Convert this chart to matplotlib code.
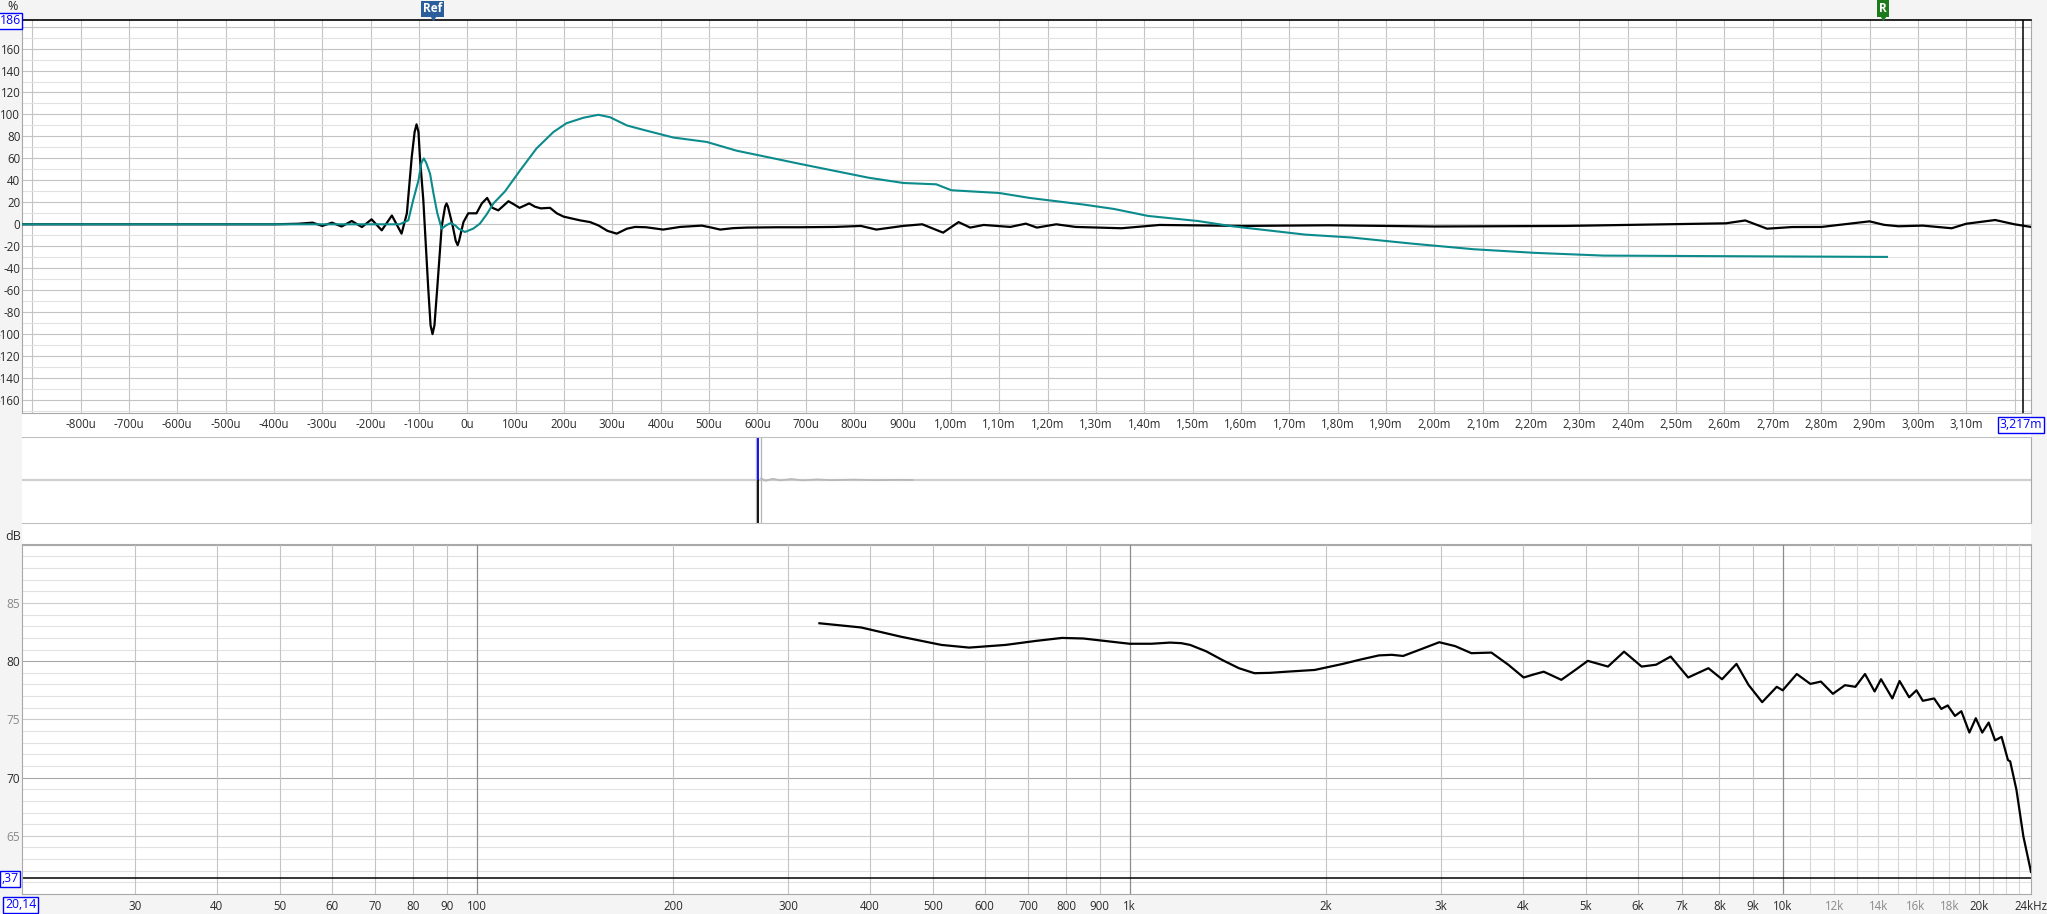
import numpy as np
import matplotlib.pyplot as plt
from matplotlib.transforms import blended_transform_factory
from matplotlib.patches import Rectangle

plt.rcParams['font.family'] = ['Open Sans', 'DejaVu Sans']

W, H = 2047, 914
DPI = 100

# ---- impulse response (black), time in us, value in % ----
imp_t = [-921, -400, -350, -320, -300, -280, -260, -239, -218, -198, -177, -156, -136,
         -125, -115, -109, -105, -101, -98, -91, -81, -76, -72, -68, -62, -53, -46, -43,
         -40, -30, -24, -20, -17, -8, 2, 19, 30, 41, 52, 64, 75, 85, 97, 108, 118, 128,
         140, 152, 171, 185, 199, 233, 254, 271, 290, 309, 330, 347, 370, 405, 440, 485,
         505, 523, 550, 578, 640, 688, 760, 814, 846, 901, 941, 984, 1016, 1040, 1068,
         1123, 1155, 1178, 1218, 1258, 1353, 1432, 1606, 1780, 2000, 2270, 2603, 2643,
         2688, 2740, 2801, 2900, 2930, 2960, 3010, 3070, 3100, 3160, 3200, 3234]
imp_v = [0, 0, 0.5, 1.5, -1.5, 1.5, -2, 3, -2.5, 4.5, -5.5, 8, -8.5,
         10, 61, 84, 91, 84, 61, 22, -57, -92, -100, -92, -57, -2, 16, 19,
         16, -2, -15, -19, -15, 2, 10, 10, 19, 24, 15, 12.7, 17, 21, 18, 15, 17, 19,
         16, 14.5, 15, 10, 7, 3.6, 2, -1, -6, -8.5, -4, -2.4, -2.7, -4.8, -2.4, -1.2,
         -3, -4.8, -3.5, -3, -2.7, -2.7, -2.4, -1.5, -4.8, -1.5, 0, -7.6, 2, -3, -0.6,
         -2.4, 0.6, -3, 0, -2.4, -3.6, -0.6, -1.5, -0.9, -2, -1.5, 0.9, 3.5,
         -4, -2.5, -2.4, 2.7, -0.5, -1.8, -1.2, -3.6, 0.5, 3.9, 0, -2.4]

# ---- step response (teal) ----
step_t = [-921, -140, -122, -112, -101, -95, -90, -85, -77, -70, -62, -53, -44, -34,
          -25, -18, -5, 12, 26, 40, 54, 78, 109, 143, 178, 205, 240, 271, 295, 330,
          364, 426, 495, 557, 612, 688, 830, 902, 970, 1001, 1100, 1163, 1274, 1337,
          1408, 1511, 1582, 1733, 1828, 1954, 2081, 2208, 2350, 2588, 2936]
step_v = [0, 0, 3.6, 22, 40, 56, 60, 56, 46, 28, 10, -4, -1, 1.2,
          -1, -4, -7, -4, 0.6, 9, 19, 30, 49, 69, 84, 92, 97, 99.7, 97.5, 90,
          86, 79, 75, 67, 62, 55, 42.4, 37.6, 36.4, 31, 28.5, 24, 18, 14,
          7.6, 3, -1.8, -9.4, -12, -17.6, -22.7, -26, -28.5, -29, -29.7]

# ---- overview strip (normalised) ----
ov_spike_t = 0.0
ov_spike_pos = 1.0
ov_spike_neg = -1.0
ov_window = [-0.0033, 0.0043]
ov_t = [0.004, 0.01, 0.02, 0.03, 0.045, 0.06, 0.08, 0.1, 0.13, 0.16, 0.19, 0.21]
ov_v = [0.04, -0.02, 0.03, -0.01, 0.025, -0.01, 0.015, -0.005, 0.01, -0.005, 0.005, 0]

# ---- frequency response ----
freq = [335, 388, 447, 515, 568, 646, 720, 788, 850, 907, 1000, 1080, 1154, 1200, 1238,
        1310, 1387, 1470, 1553, 1640, 1740, 1921, 2121, 2260, 2409, 2520, 2623, 2800,
        2979, 3150, 3337, 3581, 3800, 4012, 4150, 4306, 4582, 4800, 5030, 5401, 5716,
        6082, 6400, 6737, 7166, 7696, 8075, 8497, 8864, 9302, 9792, 10000, 10509,
        11025, 11441, 11937, 12455, 12921, 13367, 13828, 14144, 14720, 15099, 15619,
        16025, 16390, 17056, 17493, 17893, 18356, 18775, 19314, 19754, 20210, 20672,
        21143, 21635, 22130, 22300, 22800, 23363, 24000]
spl = [83.26, 82.9, 82.1, 81.4, 81.17, 81.4, 81.75, 82.0, 81.95, 81.77, 81.5, 81.5, 81.6,
       81.55, 81.4, 80.85, 80.1, 79.4, 78.97, 79.0, 79.1, 79.25, 79.77, 80.15, 80.5, 80.55,
       80.45, 81.05, 81.63, 81.3, 80.69, 80.74, 79.7, 78.6, 78.85, 79.1, 78.4, 79.2, 80.03,
       79.54, 80.82, 79.54, 79.7, 80.4, 78.6, 79.4, 78.45, 79.77, 77.97, 76.48, 77.8,
       77.5, 78.9, 78.05, 78.25, 77.2, 77.94, 77.8, 78.9, 77.4, 78.45, 76.8, 78.3, 76.9,
       77.5, 76.6, 76.8, 75.9, 76.2, 75.3, 75.7, 73.87, 75.1, 73.87, 74.73, 73.2, 73.5,
       71.5, 71.4, 68.95, 64.95, 61.9]

ref_t = -72
marker_r_t = 2928
cursor_t = 3217
cursor_db = 61.37
f_start = 20.14
f_end = 24000

GRID = '#c4c4c4'
GRID_MINOR = '#e2e2e2'
TEAL = '#0b8b8b'
TXT = '#2a2a2a'
FS = 8.3

fig = plt.figure(figsize=(W / DPI, H / DPI), dpi=DPI, facecolor='#f4f4f4')


def px_axes(l, t, r, b):
    return fig.add_axes([l / W, 1 - b / H, (r - l) / W, (b - t) / H])


def ftext(x, y, s, **kw):
    return fig.text(x / W, 1 - y / H, s, **kw)


def white_band(l, t, r, b):
    fig.patches.append(Rectangle((l / W, 1 - b / H), (r - l) / W, (b - t) / H,
                                 transform=fig.transFigure, fc='white', ec='none', zorder=-1))


white_band(22, 413, 2031, 437)
white_band(22, 523, 2031, 544)

blue_box = dict(boxstyle='square,pad=0.12', fc='white', ec='blue', lw=1)

# ---- top panel: impulse / step ----
ax1 = px_axes(22, 20, 2031, 413)
ax1.set_xlim(-921, 3234)
ax1.set_ylim(-171.8, 186)
for t in range(-900, 3300, 100):
    ax1.axvline(t, color=GRID, lw=0.8, zorder=0)
for v in range(-170, 190, 10):
    ax1.axhline(v, color=GRID if v % 20 == 0 else GRID_MINOR, lw=0.8, zorder=0)

ax1.plot(imp_t, imp_v, color='black', lw=1.6, solid_joinstyle='round', zorder=3)
ax1.plot(step_t, step_v, color=TEAL, lw=1.5, solid_joinstyle='round', zorder=4)
ax1.axvline(cursor_t, color='black', lw=1.1, zorder=5)

# the last tick (3,20m) sits under the cursor readout box, so it is left out
xt = list(range(-800, 3200, 100))
xl = [f"{t}u" if abs(t) < 1000 else f"{t / 1000:.2f}m".replace('.', ',') for t in xt]
ax1.set_xticks(xt)
ax1.set_xticklabels(xl, fontsize=FS, color=TXT)
# 180 is hidden by the "186" readout box
yt = list(range(-160, 180, 20))
ax1.set_yticks(yt)
ax1.set_yticklabels([str(v) for v in yt], fontsize=FS, color=TXT)
ax1.tick_params(length=0, pad=3.5, axis='x')
ax1.tick_params(length=0, pad=1.2, axis='y')
for s in ['left', 'right', 'bottom']:
    ax1.spines[s].set_color('#a8a8a8')
ax1.spines['top'].set_color('black')
ax1.spines['top'].set_linewidth(1.2)

trans1 = blended_transform_factory(ax1.transData, fig.transFigure)
ax1.text(ref_t, 1 - 9 / H, 'Ref', transform=trans1, ha='center', va='center', color='white',
         fontsize=8.5, fontweight='bold',
         bbox=dict(boxstyle='square,pad=0.15', fc='#2b5f9c', ec='none'), zorder=6)
ax1.plot([ref_t], [1 - 16.5 / H], marker='v', ms=5, color='#2b5f9c', transform=trans1,
         clip_on=False, zorder=6)
ax1.text(marker_r_t, 1 - 8.5 / H, 'R', transform=trans1, ha='center', va='center', color='white',
         fontsize=8.5, fontweight='bold',
         bbox=dict(boxstyle='square,pad=0.2', fc='#1d7a1d', ec='none'), zorder=6)
ax1.plot([marker_r_t], [1 - 16.5 / H], marker='v', ms=5, color='#1d7a1d', transform=trans1,
         clip_on=False, zorder=6)

ftext(13, 7, '%', ha='center', va='center', fontsize=9, color=TXT)
ftext(10, 21, '186', ha='center', va='center', fontsize=FS + 0.5, color='blue', bbox=blue_box)
ftext(2021, 425, '3,217m', ha='center', va='center', fontsize=FS + 0.5, color='blue', bbox=blue_box)

# ---- middle overview strip ----
ax2 = px_axes(22, 437, 2031, 523)
ax2.set_xlim(-1, 1.729)
ax2.set_ylim(-1, 1)
ax2.axhline(0, color='#cfcfcf', lw=1.6, zorder=0)
for w in ov_window:
    ax2.axvline(w, color='#b4b4b4', lw=0.9)
ax2.plot(ov_t, ov_v, color='#b8b8b8', lw=1.2)
ax2.vlines(ov_spike_t, 0, ov_spike_pos, color='blue', lw=1.3)
ax2.vlines(ov_spike_t, ov_spike_neg, 0, color='black', lw=1.3)
ax2.set_xticks([])
ax2.set_yticks([])
for s in ax2.spines.values():
    s.set_color('#c0c0c0')
ax2.spines['left'].set_visible(False)
ax2.spines['right'].set_color('#a8a8a8')

ftext(13, 536, 'dB', ha='center', va='center', fontsize=9, color=TXT)

# ---- bottom panel: frequency response ----
ax3 = px_axes(22, 544, 2031, 894)
ax3.set_xscale('log')
ax3.set_xlim(f_start, f_end)
ax3.set_ylim(60, 90.07)
for d in range(61, 91):
    c = '#a8a8a8' if d % 10 == 0 else ('#cccccc' if d % 5 == 0 else GRID_MINOR)
    ax3.axhline(d, color=c, lw=0.8, zorder=0)
mid = list(range(30, 100, 10)) + list(range(200, 1000, 100)) + list(range(2000, 10000, 1000))
for f in mid:
    ax3.axvline(f, color=GRID, lw=0.8, zorder=0)
for f in [100, 1000, 10000]:
    ax3.axvline(f, color='#8c8c8c', lw=0.9, zorder=0)
for f in range(11000, 24000, 1000):
    ax3.axvline(f, color=GRID if f == 20000 else '#d8d8d8', lw=0.8, zorder=0)

ax3.axhline(cursor_db, color='black', lw=1.1, zorder=2)
ax3.plot(freq, spl, color='black', lw=1.6, solid_joinstyle='round', zorder=3)

fx = mid[:7] + [100] + mid[7:15] + [1000] + mid[15:] + [10000, 12000, 14000, 16000, 18000, 20000, 24000]
fl = []
for f in fx:
    if f == 24000:
        fl.append('24kHz')
    elif f >= 1000:
        fl.append(f"{f // 1000}k")
    else:
        fl.append(str(f))
ax3.set_xticks(fx)
ax3.set_xticklabels(fl, fontsize=FS)
ax3.minorticks_off()
for f, lab in zip(fx, ax3.get_xticklabels()):
    lab.set_color('#8a8a8a' if f in (12000, 14000, 16000, 18000) else TXT)
dt = [65, 70, 75, 80, 85]
ax3.set_yticks(dt)
ax3.set_yticklabels([str(d) for d in dt], fontsize=FS + 0.3)
for d, lab in zip(dt, ax3.get_yticklabels()):
    lab.set_color(TXT if d % 10 == 0 else '#8a8a8a')
ax3.tick_params(length=0, pad=4, axis='x')
ax3.tick_params(length=0, pad=1.5, axis='y')
for s in ax3.spines.values():
    s.set_color('#a8a8a8')

# cursor readouts (the level box is clipped at the window edge in the original)
ftext(19, 879, ',37', ha='right', va='center', fontsize=FS + 0.5, color='blue', bbox=blue_box)
ftext(20.5, 905, '20,14', ha='center', va='center', fontsize=FS + 0.5, color='blue', bbox=blue_box)

fig.savefig('out.png', dpi=DPI, facecolor=fig.get_facecolor())
